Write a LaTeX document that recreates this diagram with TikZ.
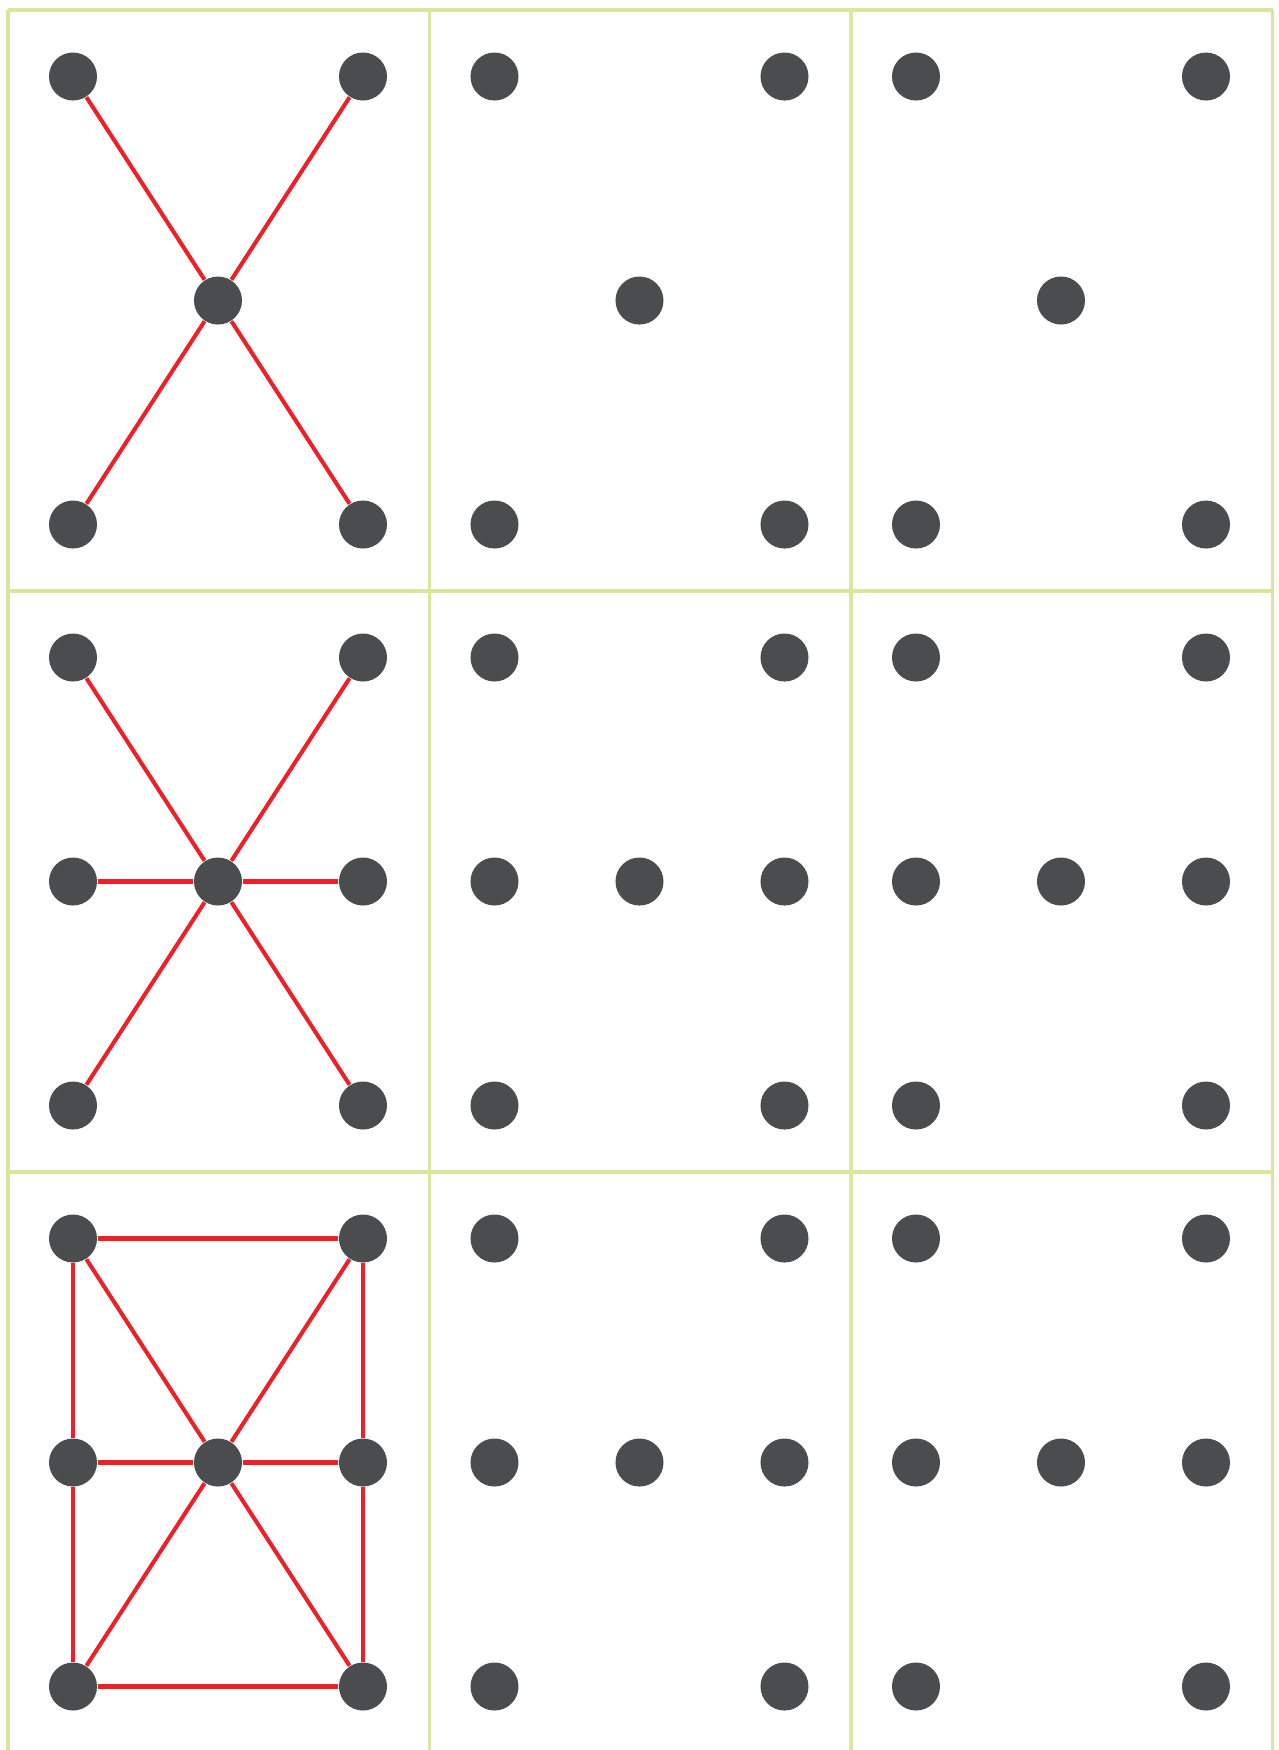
\documentclass[tikz,border=0pt]{standalone}
\definecolor{dotgrey}{HTML}{4B4C4E}
\definecolor{edgered}{HTML}{EE1F26}
\definecolor{gridgreen}{HTML}{D9E69C}

\begin{document}
\begin{tikzpicture}[
  x=0.01cm, y=-0.01cm,
  dot/.style={circle, fill=dotgrey, minimum size=0.48cm, inner sep=0pt},
  edge/.style={edgered, line width=1.15pt},
  gridline/.style={gridgreen, line width=0.9pt}]

  \def\cw{421.5}   % cell width
  \def\ch{581}     % cell height
  \def\dx{145}     % dot pitch across
  \def\dy{224}     % dot pitch down

  \useasboundingbox (0,0) rectangle (1279,1750);

  % ---- grid -------------------------------------------------------------
  \coordinate (g-tl) at (8,10);
  \coordinate (g-tr) at (8+3*\cw,10);
  \draw[gridline] (g-tl) -- (g-tr);
  \foreach \r in {1,2} {
    \coordinate (h\r-a) at (8,10+\r*\ch);
    \coordinate (h\r-b) at (8+3*\cw,10+\r*\ch);
    \draw[gridline] (h\r-a) -- (h\r-b);
  }
  \foreach \c in {0,...,3} {
    \coordinate (v\c-a) at (8+\c*\cw,10);
    \coordinate (v\c-b) at (8+\c*\cw,1750);
    \draw[gridline] (v\c-a) -- (v\c-b);
  }

  % ---- dots -------------------------------------------------------------
  \foreach \c in {0,1,2} {
    \foreach \r in {0,1,2} {
      \node[dot] (p\r\c-tl) at (73+\c*\cw,76.5+\r*\ch) {};
      \node[dot] (p\r\c-tr) at (73+\c*\cw+2*\dx,76.5+\r*\ch) {};
      \node[dot] (p\r\c-c)  at (73+\c*\cw+\dx,76.5+\r*\ch+\dy) {};
      \node[dot] (p\r\c-bl) at (73+\c*\cw,76.5+\r*\ch+2*\dy) {};
      \node[dot] (p\r\c-br) at (73+\c*\cw+2*\dx,76.5+\r*\ch+2*\dy) {};
    }
    \foreach \r in {1,2} {
      \node[dot] (p\r\c-ml) at (73+\c*\cw,76.5+\r*\ch+\dy) {};
      \node[dot] (p\r\c-mr) at (73+\c*\cw+2*\dx,76.5+\r*\ch+\dy) {};
    }
  }

  % ---- edges, first column ----------------------------------------------
  \foreach \r in {0,1,2} {
    \foreach \a in {tl,tr,bl,br} { \draw[edge] (p\r0-\a) -- (p\r0-c); }
  }
  \foreach \r in {1,2} {
    \foreach \a in {ml,mr} { \draw[edge] (p\r0-\a) -- (p\r0-c); }
  }
  \foreach \a/\b in {tl/tr, bl/br, tl/ml, ml/bl, tr/mr, mr/br} {
    \draw[edge] (p20-\a) -- (p20-\b);
  }
\end{tikzpicture}
\end{document}
